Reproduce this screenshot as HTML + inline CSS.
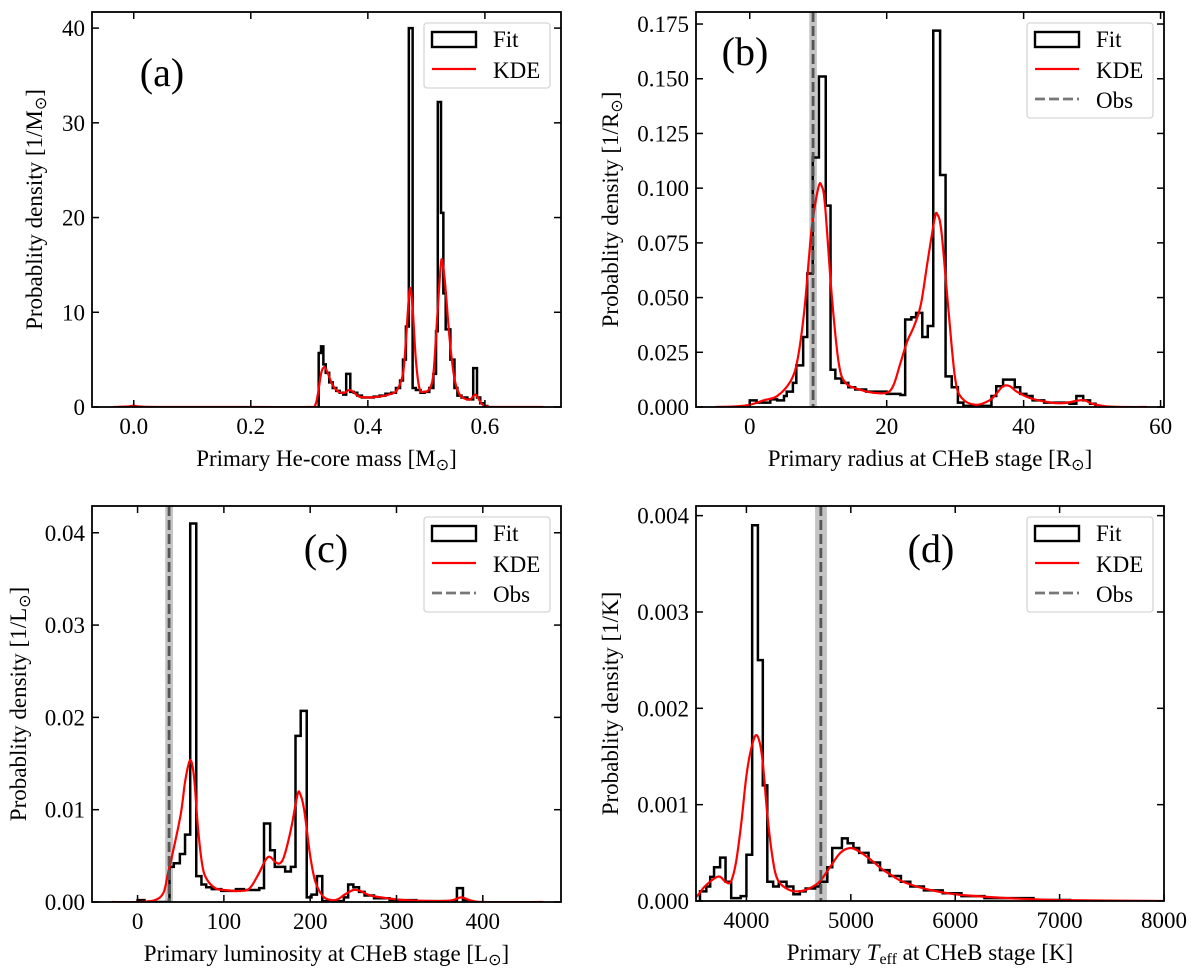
<!DOCTYPE html>
<html><head><meta charset="utf-8"><style>
html,body{margin:0;padding:0;background:#fff}
svg{display:block;font-family:"Liberation Serif",serif}
</style></head><body>
<svg id="fig" width="1200" height="972" viewBox="0 0 1200 972" xmlns="http://www.w3.org/2000/svg"></svg>
<script>
// ---------- Panel (a) data ----------
const aEdges=[0.316,0.320,0.324,0.328,0.334,0.340,0.346,0.352,0.358,0.363,0.370,0.376,0.382,0.390,0.400,0.410,0.420,0.430,0.440,0.448,0.455,0.460,0.465,0.470,0.4765,0.482,0.490,0.497,0.505,0.512,0.5165,0.5195,0.525,0.529,0.533,0.541,0.548,0.553,0.560,0.570,0.580,0.5865,0.592,0.598,0.604];
const aHeights=[5.7,6.4,4.5,3.6,2.6,2.0,1.7,1.5,1.3,3.5,1.6,1.5,1.2,1.0,1.0,1.1,1.2,1.4,1.5,2.0,2.8,5.0,8.5,40.0,2.0,1.8,1.5,1.6,2.0,3.5,8.0,32.2,20.5,12.0,8.2,5.0,2.0,1.2,1.0,0.8,4.1,1.0,0.4,0.1];
const aKdeX=[-0.035,-0.01,0.0,0.01,0.05,0.2,0.30,0.31,0.315,0.32,0.325,0.33,0.34,0.35,0.36,0.368,0.375,0.385,0.40,0.42,0.44,0.45,0.46,0.465,0.47,0.473,0.477,0.482,0.488,0.495,0.505,0.512,0.518,0.524,0.527,0.532,0.54,0.548,0.556,0.565,0.575,0.583,0.588,0.595,0.605,0.62,0.70];
const aKdeY=[0,0.05,0.15,0.05,0,0,0,0.2,1.5,3.5,4.2,3.8,2.3,1.6,1.5,1.8,1.6,1.1,1.0,1.1,1.4,1.8,3.5,7.0,11.5,12.5,10.0,5.0,2.0,1.6,1.9,3.5,9.0,14.5,15.5,13.0,7.0,3.0,1.4,0.9,0.8,1.3,1.0,0.3,0.05,0,0];
const aXTicks=[0.0,0.2,0.4,0.6], aXTickLabels=["0.0","0.2","0.4","0.6"];
const aYTicks=[0,10,20,30,40], aYTickLabels=["0","10","20","30","40"];
// ---------- Panel (b) data ----------
const bEdges=[0,1,3,4,5,5.4,6.3,6.8,7.8,8.4,9.2,10.1,11.1,11.8,12.5,13.4,14.4,15.4,17,20,22,22.7,23.6,24.3,25.2,26,26.8,27.8,28.6,29.5,30.4,31.2,35.3,36,37,38.7,39.5,40.4,41.3,43,46.7,47.7,48.7,49.7,50.5];
const bHeights=[0.003,0.002,0.0035,0.003,0.005,0.007,0.011,0.019,0.032,0.061,0.114,0.151,0.092,0.017,0.013,0.011,0.009,0.008,0.007,0.006,0.0055,0.040,0.041,0.043,0.032,0.037,0.172,0.106,0.014,0.009,0.002,0.0005,0.005,0.0095,0.0125,0.009,0.006,0.005,0.003,0.002,0.0015,0.005,0.003,0.0015];
const bKdeX=[-5,-2,0,2,4,6,7,8,9,10,10.5,11,12,13,14,16,18,20,21,22,23,24,25,26,27,27.4,28,29,30,31,33,35,36,37,38,39,41,44,46,48,49,50,52,55,58];
const bKdeY=[0,0.0003,0.001,0.003,0.005,0.012,0.022,0.045,0.08,0.1,0.101,0.092,0.05,0.02,0.011,0.008,0.0065,0.0065,0.01,0.02,0.03,0.037,0.047,0.067,0.086,0.088,0.08,0.045,0.013,0.004,0.001,0.003,0.006,0.0095,0.0095,0.007,0.004,0.002,0.0018,0.003,0.003,0.0015,0.0003,0,0];
const bObs=[9.25], bObsLo=[8.7], bObsHi=[9.8];
const bXTicks=[0,20,40,60], bXTickLabels=["0","20","40","60"];
const bYTicks=[0,0.025,0.05,0.075,0.1,0.125,0.15,0.175], bYTickLabels=["0.000","0.025","0.050","0.075","0.100","0.125","0.150","0.175"];
// ---------- Panel (c) data ----------
const cEdges=[0,8,37,42,49,55,61,68,74,79.5,86,97,114,123,141,146.5,153.6,159,171,177.6,183,189,196,201.5,207.8,214,239,244,250,256.6,263,274,292,323,370,377,383];
const cHeights=[0.0002,0,0.0038,0.0042,0.0052,0.0073,0.041,0.0028,0.0019,0.0016,0.0014,0.0012,0.0014,0.0013,0.0015,0.0085,0.0056,0.0038,0.0033,0.0038,0.018,0.0207,0.0005,0.0008,0.0028,0.0001,0.0005,0.0019,0.0016,0.0011,0.0007,0.0004,0.0002,0.0001,0.0015,0.0002];
const cKdeX=[-30,0,20,30,35,40,50,55,60,63,66,70,75,80,90,100,120,130,140,148,153,160,165,170,178,185,188,193,200,206,215,225,232,240,250,258,270,290,310,350,365,375,385,400,470];
const cKdeY=[0,0,0.0002,0.001,0.003,0.005,0.0095,0.013,0.0152,0.015,0.013,0.008,0.004,0.0025,0.0015,0.0013,0.0012,0.0015,0.003,0.0045,0.0049,0.0043,0.0042,0.005,0.008,0.0115,0.0118,0.01,0.005,0.0022,0.0006,0.0002,0.0003,0.0008,0.0013,0.0012,0.0007,0.0004,0.0002,0.0001,0.0002,0.0005,0.0002,0,0];
const cObs=[36.5], cObsLo=[32], cObsHi=[41];
const cXTicks=[0,100,200,300,400], cXTickLabels=["0","100","200","300","400"];
const cYTicks=[0,0.01,0.02,0.03,0.04], cYTickLabels=["0.00","0.01","0.02","0.03","0.04"];
// ---------- Panel (d) data ----------
const dEdges=[3555,3616,3653,3690,3748,3800,3854,3945,4000,4055,4110,4157,4200,4256,4310,4384,4450,4512,4567,4658,4705,4775,4822,4860,4915,4970,5025,5080,5170,5280,5371,5480,5570,5700,5880,6060,6280,6750,7100];
const dHeights=[0.0001,0.00015,0.00025,0.00035,0.00045,0.0002,0.00003,0.00005,0.00048,0.0039,0.0025,0.0012,0.0002,0.00015,0.0002,0.00015,0.00007,0.0001,0.00013,0.00015,0.0002,0.00035,0.00055,0.00055,0.00065,0.0006,0.00055,0.0005,0.0004,0.00032,0.00026,0.0002,0.00015,0.00011,0.00008,0.00005,0.00003,0.00001];
const dKdeX=[3500,3550,3600,3700,3750,3800,3850,3900,3950,4000,4050,4100,4150,4200,4250,4300,4400,4500,4600,4700,4800,4900,5000,5100,5200,5300,5400,5500,5700,6000,6500,7000,8000];
const dKdeY=[0.00002,0.00008,0.00015,0.00024,0.00025,0.0002,0.0002,0.0004,0.0008,0.0013,0.0016,0.00172,0.0015,0.0009,0.00045,0.00022,0.00012,0.0001,0.00013,0.0002,0.00035,0.0005,0.00055,0.0005,0.00042,0.00033,0.00026,0.0002,0.00013,0.00007,0.00003,0.00001,0];
const dObs=[4713], dObsLo=[4658], dObsHi=[4771];
const dXTicks=[4000,5000,6000,7000,8000], dXTickLabels=["4000","5000","6000","7000","8000"];
const dYTicks=[0,0.001,0.002,0.003,0.004], dYTickLabels=["0.000","0.001","0.002","0.003","0.004"];

const NS="http://www.w3.org/2000/svg";
const fig=document.getElementById('fig');
function mk(tag,attrs,parent){const e=document.createElementNS(NS,tag);for(const k in attrs)e.setAttribute(k,attrs[k]);(parent||fig).appendChild(e);return e;}

function smoothPath(pts){
  let d=`M${pts[0][0]},${pts[0][1]}`;
  for(let i=0;i<pts.length-1;i++){
    const p0=pts[Math.max(0,i-1)],p1=pts[i],p2=pts[i+1],p3=pts[Math.min(pts.length-1,i+2)];
    const c1=[p1[0]+(p2[0]-p0[0])/6,p1[1]+(p2[1]-p0[1])/6];
    const c2=[p2[0]-(p3[0]-p1[0])/6,p2[1]-(p3[1]-p1[1])/6];
    d+=` C${c1[0].toFixed(2)},${c1[1].toFixed(2)} ${c2[0].toFixed(2)},${c2[1].toFixed(2)} ${p2[0].toFixed(2)},${p2[1].toFixed(2)}`;
  }
  return d;
}
const FS=23;
function panel(o){
  const g=mk('g',{});
  
  
  const X=v=>o.L+(v-o.xmin)/(o.xmax-o.xmin)*(o.R-o.L);
  const Y=v=>o.B-(v-o.ymin)/(o.ymax-o.ymin)*(o.B-o.T);
  const clip=mk('clipPath',{id:'clip-'+o.name},g);
  mk('rect',{x:o.L,y:o.T,width:o.R-o.L,height:o.B-o.T},clip);
  const plot=mk('g',{'clip-path':`url(#clip-${o.name})`},g);
  if(o.obs){
    const band=mk('rect',{x:X(o.obsLo[0]),y:o.T,width:X(o.obsHi[0])-X(o.obsLo[0]),height:o.B-o.T,fill:'#c4c4c4'},plot);
    
    
  }
  let d=`M${X(o.edges[0])},${Y(0)}`;
  for(let i=0;i<o.heights.length;i++){d+=` L${X(o.edges[i])},${Y(o.heights[i])} L${X(o.edges[i+1])},${Y(o.heights[i])}`;}
  d+=` L${X(o.edges[o.edges.length-1])},${Y(0)}`;
  const h=mk('path',{d:d,fill:'none',stroke:'#000','stroke-width':2.5,'stroke-linejoin':'miter'},plot);
  
  
  const pts=o.kx.map((x,i)=>[X(x),Y(o.ky[i])]);
  const k=mk('path',{d:smoothPath(pts),fill:'none',stroke:'#ff0000','stroke-width':2.2},plot);
  
  
  if(o.obs){
    const ln=mk('line',{x1:X(o.obs[0]),x2:X(o.obs[0]),y1:o.T,y2:o.B,stroke:'#555','stroke-width':2.8,'stroke-dasharray':'10,4'},plot);
    
    
  }
  const fr=mk('rect',{x:o.L,y:o.T,width:o.R-o.L,height:o.B-o.T,fill:'none',stroke:'#000','stroke-width':1.8},g);
  
  
  o.xt.forEach((v,i)=>{
    const x=X(v);
    mk('line',{x1:x,x2:x,y1:o.B,y2:o.B-7,stroke:'#000','stroke-width':1.5},g);
    mk('line',{x1:x,x2:x,y1:o.T,y2:o.T+7,stroke:'#000','stroke-width':1.5},g);
    const t=mk('text',{x:x,y:o.B+27,'font-size':FS,'text-anchor':'middle'},g);
    t.textContent=o.xtl[i];
    
    
  });
  o.yt.forEach((v,i)=>{
    const y=Y(v);
    mk('line',{x1:o.L,x2:o.L+7,y1:y,y2:y,stroke:'#000','stroke-width':1.5},g);
    mk('line',{x1:o.R,x2:o.R-7,y1:y,y2:y,stroke:'#000','stroke-width':1.5},g);
    const t=mk('text',{x:o.L-7,y:y+8,'font-size':FS,'text-anchor':'end'},g);
    t.textContent=o.ytl[i];
    
    
  });
  const xl=mk('text',{x:(o.L+o.R)/2,y:o.B+59,'font-size':FS,'text-anchor':'middle'},g);
  xl.innerHTML=o.xlabel;
  
  
  const yl=mk('text',{x:0,y:0,'font-size':FS,'text-anchor':'middle',transform:`translate(${o.ylx},${(o.T+o.B)/2}) rotate(-90)`},g);
  yl.innerHTML=o.ylabel;
  
  
  const pl=mk('text',{x:o.lx,y:o.ly,'font-size':40,'text-anchor':'middle'},g);
  pl.textContent=o.letter;
  
  
  const lg=mk('g',{},g);
  
  
  const n=o.obs?3:2, lx=o.R-137, ly=o.T+11, lh=n==3?95:65;
  mk('rect',{x:lx,y:ly,width:126,height:lh,rx:3,fill:'#fff',stroke:'#d6d6d6','stroke-width':1.3},lg);
  const e1=mk('g',{},lg);
  
  
  mk('rect',{x:lx+8,y:ly+9,width:44,height:15,fill:'none',stroke:'#000','stroke-width':2.4},e1);
  mk('text',{x:lx+69,y:ly+24,'font-size':FS},e1).textContent='Fit';
  const e2=mk('g',{},lg);
  
  
  mk('line',{x1:lx+8,x2:lx+52,y1:ly+46,y2:ly+46,stroke:'#f00','stroke-width':2.2},e2);
  mk('text',{x:lx+69,y:ly+55,'font-size':FS},e2).textContent='KDE';
  if(o.obs){
    const e3=mk('g',{},lg);
    
    
    mk('line',{x1:lx+8,x2:lx+52,y1:ly+76,y2:ly+76,stroke:'#777','stroke-width':2.8,'stroke-dasharray':'10,4'},e3);
    mk('text',{x:lx+69,y:ly+85,'font-size':FS},e3).textContent='Obs';
  }
}
const sun=s=>`[${s}<tspan font-size="16" dy="4">⊙</tspan><tspan dy="-4">]</tspan>`;
panel({name:'panel-a',L:92,R:561,T:12,B:407,xmin:-0.0713,xmax:0.73,ymin:0,ymax:41.7,edges:aEdges,heights:aHeights,kx:aKdeX,ky:aKdeY,xt:aXTicks,xtl:aXTickLabels,yt:aYTicks,ytl:aYTickLabels,
  xlabel:'Primary He-core mass '+sun('M'),ylabel:'Probablity density '+sun('1/M'),ylx:42,letter:'(a)',lx:162,ly:86});
panel({name:'panel-b',L:696,R:1164,T:12,B:407,xmin:-7.85,xmax:60.5,ymin:0,ymax:0.1805,edges:bEdges,heights:bHeights,kx:bKdeX,ky:bKdeY,obs:bObs,obsLo:bObsLo,obsHi:bObsHi,xt:bXTicks,xtl:bXTickLabels,yt:bYTicks,ytl:bYTickLabels,
  xlabel:'Primary radius at CHeB stage '+sun('R'),ylabel:'Probablity density '+sun('1/R'),ylx:618,letter:'(b)',lx:745,ly:65});
panel({name:'panel-c',L:92,R:561,T:506,B:902,xmin:-52.8,xmax:490.6,ymin:0,ymax:0.0429,edges:cEdges,heights:cHeights,kx:cKdeX,ky:cKdeY,obs:cObs,obsLo:cObsLo,obsHi:cObsHi,xt:cXTicks,xtl:cXTickLabels,yt:cYTicks,ytl:cYTickLabels,
  xlabel:'Primary luminosity at CHeB stage '+sun('L'),ylabel:'Probablity density '+sun('1/L'),ylx:26,letter:'(c)',lx:326,ly:562});
panel({name:'panel-d',L:696,R:1164,T:506,B:901,xmin:3517,xmax:8000,ymin:0,ymax:0.0041,edges:dEdges,heights:dHeights,kx:dKdeX,ky:dKdeY,obs:dObs,obsLo:dObsLo,obsHi:dObsHi,xt:dXTicks,xtl:dXTickLabels,yt:dYTicks,ytl:dYTickLabels,
  xlabel:'Primary <tspan font-style="italic">T</tspan><tspan font-size="16" dy="4">eff</tspan><tspan dy="-4"> at CHeB stage [K]</tspan>',ylabel:'Probablity density [1/K]',ylx:618,letter:'(d)',lx:931,ly:562});
</script>
</body></html>
